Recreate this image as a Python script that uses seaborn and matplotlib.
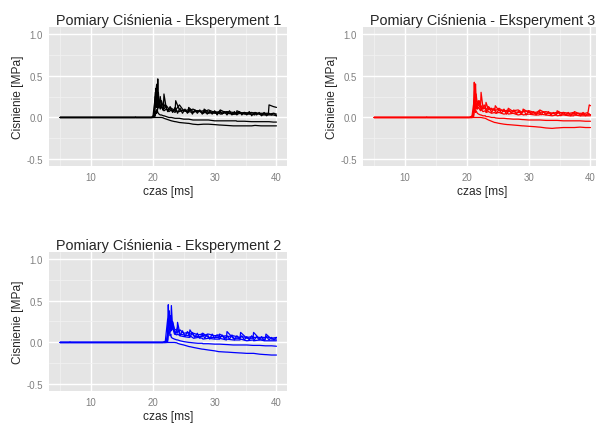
import matplotlib
matplotlib.use("Agg")
import matplotlib.pyplot as plt
import pandas as pd
import seaborn as sns

# --- Eksperyment 1 (black) ---
t_e1 = [5.0, 17.1, 17.2, 17.3, 19.8, 20.2, 20.4, 20.5, 20.6, 20.7,
        20.8, 20.9, 21.0, 21.2, 21.4, 21.7, 21.8, 22.2, 22.6, 23.0,
        23.6, 23.7, 24.3, 25.0, 25.7, 25.8, 26.5, 27.3, 28.2, 28.3,
        29.0, 30.0, 30.8, 30.9, 32.0, 33.0, 33.5, 33.6, 34.8, 36.0,
        36.5, 36.6, 37.5, 38.7, 38.8, 39.5, 40.0]
e1_a = [0, 0, 0.005, 0, 0, 0.03, 0.30, 0.15, 0.38, 0.18,
        0.46, 0.20, 0.14, 0.25, 0.12, 0.10, 0.28, 0.10, 0.09, 0.11,
        0.08, 0.20, 0.09, 0.08, 0.07, 0.12, 0.07, 0.08, 0.06, 0.10,
        0.06, 0.05, 0.05, 0.09, 0.05, 0.04, 0.04, 0.08, 0.04, 0.04,
        0.03, 0.06, 0.03, 0.03, 0.03, 0.03, 0.02]
e1_b = [0, 0, 0, 0, 0, 0.02, 0.22, 0.35, 0.12, 0.40,
        0.14, 0.30, 0.18, 0.11, 0.20, 0.12, 0.10, 0.14, 0.10, 0.08,
        0.10, 0.09, 0.15, 0.08, 0.09, 0.08, 0.10, 0.07, 0.08, 0.07,
        0.09, 0.06, 0.07, 0.06, 0.07, 0.06, 0.05, 0.06, 0.05, 0.06,
        0.05, 0.05, 0.05, 0.05, 0.15, 0.13, 0.12]
e1_c = [0, 0, 0, 0, 0, 0.01, 0.12, 0.25, 0.30, 0.15,
        0.22, 0.12, 0.15, 0.10, 0.13, 0.09, 0.08, 0.10, 0.07, 0.09,
        0.06, 0.08, 0.07, 0.09, 0.06, 0.07, 0.06, 0.08, 0.05, 0.06,
        0.05, 0.07, 0.05, 0.04, 0.06, 0.04, 0.05, 0.04, 0.06, 0.04,
        0.04, 0.05, 0.04, 0.04, 0.04, 0.05, 0.04]
e1_d = [0, 0, 0, 0, 0, 0.0, 0.02, 0.08, 0.05, 0.10,
        0.06, 0.05, 0.04, 0.03, 0.03, 0.02, 0.02, 0.01, 0.0, 0.0,
        -0.01, -0.01, -0.01, -0.02, -0.02, -0.02, -0.03, -0.03, -0.03, -0.03,
        -0.03, -0.04, -0.04, -0.04, -0.04, -0.04, -0.04, -0.045, -0.045, -0.05,
        -0.05, -0.05, -0.05, -0.05, -0.05, -0.055, -0.055]
e1_e = [0, 0, 0, 0, 0, 0, 0, 0, 0, 0,
        0, 0, 0, 0, 0, -0.005, -0.01, -0.02, -0.03, -0.04,
        -0.05, -0.05, -0.06, -0.065, -0.07, -0.07, -0.08, -0.085, -0.08, -0.08,
        -0.08, -0.085, -0.09, -0.09, -0.095, -0.1, -0.1, -0.1, -0.1, -0.1,
        -0.095, -0.095, -0.1, -0.1, -0.1, -0.1, -0.1]
# noisy sensor, sampled more densely
t_e1_f = [5.0, 20.0, 20.4, 20.8, 21.2, 21.6, 22.0, 22.4, 22.8, 23.2,
          23.6, 24.0, 24.4, 24.8, 25.2, 25.6, 26.0, 26.4, 26.8, 27.2,
          27.6, 28.0, 28.4, 28.8, 29.2, 29.6, 30.0, 30.4, 30.8, 31.2,
          31.6, 32.0, 32.4, 32.8, 33.2, 33.6, 34.0, 34.4, 34.8, 35.2,
          35.6, 36.0, 36.4, 36.8, 37.2, 37.6, 38.0, 38.4, 38.8, 39.2,
          39.6, 40.0]
e1_f = [0, 0, 0.25, 0.10, 0.22, 0.09, 0.16, 0.07, 0.13, 0.06,
        0.12, 0.05, 0.11, 0.05, 0.10, 0.05, 0.10, 0.04, 0.09, 0.05,
        0.09, 0.04, 0.09, 0.04, 0.08, 0.04, 0.08, 0.03, 0.08, 0.04,
        0.07, 0.03, 0.08, 0.03, 0.07, 0.03, 0.07, 0.03, 0.06, 0.03,
        0.07, 0.02, 0.06, 0.03, 0.06, 0.02, 0.06, 0.02, 0.05, 0.03,
        0.05, 0.02]

# --- Eksperyment 3 (red) ---
t_e3 = [5.0, 13.4, 13.5, 13.6, 20.4, 20.9, 21.1, 21.2, 21.3, 21.4,
        21.5, 21.7, 21.9, 22.2, 22.3, 22.6, 23.0, 23.1, 23.5, 24.0,
        24.5, 24.6, 25.2, 26.0, 26.6, 26.7, 27.5, 28.3, 29.0, 29.1,
        30.0, 31.0, 31.7, 31.8, 32.8, 33.8, 34.5, 34.6, 35.6, 36.6,
        37.3, 37.4, 38.3, 39.2, 39.6, 39.8, 40.0]
e3_a = [0, 0, 0.005, 0, 0, 0.02, 0.10, 0.42, 0.20, 0.40,
        0.22, 0.18, 0.14, 0.12, 0.30, 0.12, 0.10, 0.18, 0.09, 0.11,
        0.08, 0.14, 0.08, 0.09, 0.06, 0.11, 0.07, 0.06, 0.06, 0.10,
        0.06, 0.05, 0.05, 0.09, 0.05, 0.05, 0.04, 0.08, 0.04, 0.04,
        0.04, 0.07, 0.04, 0.03, 0.03, 0.04, 0.03]
e3_b = [0, 0, 0, 0, 0, 0.01, 0.06, 0.30, 0.36, 0.18,
        0.28, 0.15, 0.20, 0.11, 0.14, 0.10, 0.12, 0.09, 0.13, 0.09,
        0.10, 0.08, 0.11, 0.07, 0.09, 0.07, 0.08, 0.09, 0.06, 0.07,
        0.08, 0.06, 0.07, 0.06, 0.07, 0.05, 0.06, 0.05, 0.06, 0.05,
        0.06, 0.05, 0.05, 0.05, 0.06, 0.15, 0.14]
e3_c = [0, 0, 0, 0, 0, 0.0, 0.03, 0.15, 0.25, 0.12,
        0.18, 0.10, 0.12, 0.08, 0.10, 0.07, 0.08, 0.06, 0.07, 0.05,
        0.06, 0.05, 0.06, 0.04, 0.05, 0.04, 0.05, 0.03, 0.04, 0.03,
        0.04, 0.03, 0.03, 0.04, 0.03, 0.02, 0.03, 0.02, 0.03, 0.02,
        0.02, 0.03, 0.02, 0.02, 0.02, 0.02, 0.02]
e3_d = [0, 0, 0, 0, 0, 0, 0.01, 0.08, 0.12, 0.06,
        0.08, 0.05, 0.04, 0.03, 0.03, 0.02, 0.02, 0.01, 0.01, 0.0,
        0.0, -0.005, -0.01, -0.01, -0.015, -0.015, -0.02, -0.02, -0.025, -0.025,
        -0.03, -0.03, -0.03, -0.03, -0.035, -0.035, -0.035, -0.035, -0.04, -0.04,
        -0.04, -0.04, -0.04, -0.045, -0.045, -0.045, -0.045]
e3_e = [0, 0, 0, 0, 0, 0, 0, 0, 0, 0,
        0, 0, 0, 0, 0, -0.005, -0.01, -0.015, -0.03, -0.045,
        -0.06, -0.06, -0.07, -0.08, -0.085, -0.085, -0.09, -0.095, -0.1, -0.1,
        -0.105, -0.11, -0.115, -0.115, -0.125, -0.13, -0.125, -0.125, -0.12, -0.12,
        -0.12, -0.12, -0.115, -0.12, -0.12, -0.12, -0.12]
t_e3_f = [5.0, 20.8, 21.2, 21.6, 22.0, 22.4, 22.8, 23.2, 23.6, 24.0,
          24.4, 24.8, 25.2, 25.6, 26.0, 26.4, 26.8, 27.2, 27.6, 28.0,
          28.4, 28.8, 29.2, 29.6, 30.0, 30.4, 30.8, 31.2, 31.6, 32.0,
          32.4, 32.8, 33.2, 33.6, 34.0, 34.4, 34.8, 35.2, 35.6, 36.0,
          36.4, 36.8, 37.2, 37.6, 38.0, 38.4, 38.8, 39.2, 39.6, 40.0]
e3_f = [0, 0, 0.22, 0.10, 0.20, 0.09, 0.15, 0.07, 0.12, 0.06,
        0.11, 0.05, 0.10, 0.05, 0.10, 0.04, 0.09, 0.05, 0.09, 0.04,
        0.08, 0.04, 0.09, 0.03, 0.08, 0.04, 0.07, 0.03, 0.08, 0.03,
        0.07, 0.03, 0.07, 0.03, 0.06, 0.03, 0.07, 0.02, 0.06, 0.03,
        0.06, 0.02, 0.06, 0.03, 0.05, 0.02, 0.06, 0.02, 0.05, 0.03]

# --- Eksperyment 2 (blue) ---
t_e2 = [5.0, 6.5, 6.6, 6.7, 21.6, 22.2, 22.4, 22.5, 22.6, 22.8,
        22.9, 23.0, 23.2, 23.5, 23.9, 24.0, 24.4, 25.0, 25.9, 26.0,
        26.6, 27.3, 28.0, 28.1, 29.0, 30.0, 30.7, 30.8, 31.9, 32.0,
        33.0, 34.1, 34.2, 35.2, 36.2, 36.3, 37.3, 38.2, 38.3, 39.2,
        40.0]
e2_a = [0, 0, 0.006, 0, 0, 0.02, 0.12, 0.45, 0.22, 0.30,
        0.18, 0.44, 0.17, 0.13, 0.11, 0.24, 0.10, 0.09, 0.08, 0.15,
        0.08, 0.07, 0.07, 0.11, 0.06, 0.06, 0.06, 0.10, 0.05, 0.13,
        0.05, 0.05, 0.12, 0.05, 0.05, 0.12, 0.04, 0.04, 0.10, 0.04,
        0.04]
e2_b = [0, 0, 0, 0, 0, 0.01, 0.08, 0.30, 0.38, 0.20,
        0.32, 0.22, 0.25, 0.16, 0.14, 0.12, 0.15, 0.11, 0.12, 0.10,
        0.11, 0.09, 0.10, 0.08, 0.10, 0.08, 0.09, 0.07, 0.08, 0.07,
        0.08, 0.06, 0.07, 0.06, 0.07, 0.06, 0.06, 0.06, 0.07, 0.05,
        0.06]
e2_c = [0, 0, 0, 0, 0, 0.0, 0.03, 0.18, 0.28, 0.15,
        0.20, 0.14, 0.18, 0.10, 0.09, 0.10, 0.08, 0.07, 0.06, 0.08,
        0.05, 0.06, 0.05, 0.04, 0.05, 0.04, 0.04, 0.05, 0.03, 0.04,
        0.03, 0.03, 0.04, 0.02, 0.03, 0.02, 0.03, 0.02, 0.02, 0.02,
        0.02]
e2_d = [0, 0, 0, 0, 0, 0, 0.01, 0.10, 0.15, 0.08,
        0.10, 0.06, 0.05, 0.04, 0.03, 0.03, 0.02, 0.01, 0.0, 0.0,
        -0.005, -0.01, -0.01, -0.015, -0.015, -0.02, -0.02, -0.02, -0.025, -0.025,
        -0.03, -0.03, -0.03, -0.03, -0.035, -0.035, -0.035, -0.04, -0.04, -0.04,
        -0.045]
e2_e = [0, 0, 0, 0, 0, 0, 0, 0, 0, 0,
        0, 0, 0, 0, -0.005, -0.01, -0.02, -0.03, -0.05, -0.05,
        -0.06, -0.07, -0.08, -0.08, -0.09, -0.10, -0.11, -0.11, -0.115, -0.115,
        -0.12, -0.125, -0.125, -0.13, -0.13, -0.13, -0.14, -0.145, -0.145, -0.15,
        -0.15]
t_e2_f = [5.0, 22.0, 22.4, 22.8, 23.2, 23.6, 24.0, 24.4, 24.8, 25.2,
          25.6, 26.0, 26.4, 26.8, 27.2, 27.6, 28.0, 28.4, 28.8, 29.2,
          29.6, 30.0, 30.4, 30.8, 31.2, 31.6, 32.0, 32.4, 32.8, 33.2,
          33.6, 34.0, 34.4, 34.8, 35.2, 35.6, 36.0, 36.4, 36.8, 37.2,
          37.6, 38.0, 38.4, 38.8, 39.2, 39.6, 40.0]
e2_f = [0, 0, 0.28, 0.12, 0.24, 0.10, 0.18, 0.08, 0.14, 0.07,
        0.13, 0.06, 0.12, 0.06, 0.11, 0.05, 0.11, 0.05, 0.10, 0.04,
        0.10, 0.05, 0.09, 0.04, 0.09, 0.04, 0.08, 0.04, 0.09, 0.03,
        0.08, 0.04, 0.08, 0.03, 0.07, 0.03, 0.08, 0.03, 0.07, 0.03,
        0.07, 0.02, 0.07, 0.03, 0.06, 0.03, 0.06]

x_ticks = [10, 20, 30, 40]
y_ticks = [-0.5, 0.0, 0.5, 1.0]
y_tick_labels = ["-0.5", "0.0", "0.5", "1.0"]


def make_frame(series):
    parts = []
    for i, (t, vals) in enumerate(series):
        parts.append(pd.DataFrame({"czas": t, "cisnienie": vals, "czujnik": i}))
    return pd.concat(parts, ignore_index=True)


def style_panel(ax, title):
    ax.set_facecolor("#E5E5E5")
    for s in ax.spines.values():
        s.set_visible(False)
    ax.set_xlim(3.25, 41.75)
    ax.set_ylim(-0.575, 1.075)
    ax.set_xticks(x_ticks)
    ax.set_xticklabels([str(v) for v in x_ticks])
    ax.set_yticks(y_ticks)
    ax.set_yticklabels(y_tick_labels)
    ax.set_xticks([5, 15, 25, 35], minor=True)
    ax.set_yticks([-0.25, 0.25, 0.75], minor=True)
    ax.grid(which="major", color="white", lw=1.0)
    ax.grid(which="minor", color="#F2F2F2", lw=0.5)
    ax.set_axisbelow(True)
    ax.tick_params(which="major", direction="out", length=3, width=0.8,
                   color="#7F7F7F", labelcolor="#7F7F7F", labelsize=6.9, pad=1.5)
    ax.tick_params(which="minor", length=0)
    ax.set_xlabel("czas [ms]", fontsize=8.6, labelpad=2)
    ax.set_ylabel("Cisnienie [MPa]", fontsize=8.6, labelpad=1.5)
    ax.set_title(title, fontsize=10.4, pad=2.4)


sns.set_theme(style="darkgrid")
plt.rcParams["font.family"] = ["Liberation Sans", "DejaVu Sans"]
plt.rcParams["axes.unicode_minus"] = False

fig = plt.figure(figsize=(5.96, 4.27), dpi=100)
fig.patch.set_facecolor("white")

panels = [
    ([0.0827, 0.6096, 0.3993, 0.3241],
     [(t_e1, e1_a), (t_e1, e1_b), (t_e1, e1_c), (t_e1, e1_d), (t_e1, e1_e),
      (t_e1_f, e1_f)],
     "black", "Pomiary Ciśnienia - Eksperyment 1"),
    ([0.6096, 0.6096, 0.3993, 0.3241],
     [(t_e3, e3_a), (t_e3, e3_b), (t_e3, e3_c), (t_e3, e3_d), (t_e3, e3_e),
      (t_e3_f, e3_f)],
     "red", "Pomiary Ciśnienia - Eksperyment 3"),
    ([0.0827, 0.0827, 0.3993, 0.3241],
     [(t_e2, e2_a), (t_e2, e2_b), (t_e2, e2_c), (t_e2, e2_d), (t_e2, e2_e),
      (t_e2_f, e2_f)],
     "blue", "Pomiary Ciśnienia - Eksperyment 2"),
]

for rect, series, color, title in panels:
    ax = fig.add_axes(rect)
    df = make_frame(series)
    sns.lineplot(data=df, x="czas", y="cisnienie", units="czujnik",
                 estimator=None, color=color, lw=0.9, ax=ax, legend=False)
    style_panel(ax, title)

fig.savefig("out.png", dpi=100)
